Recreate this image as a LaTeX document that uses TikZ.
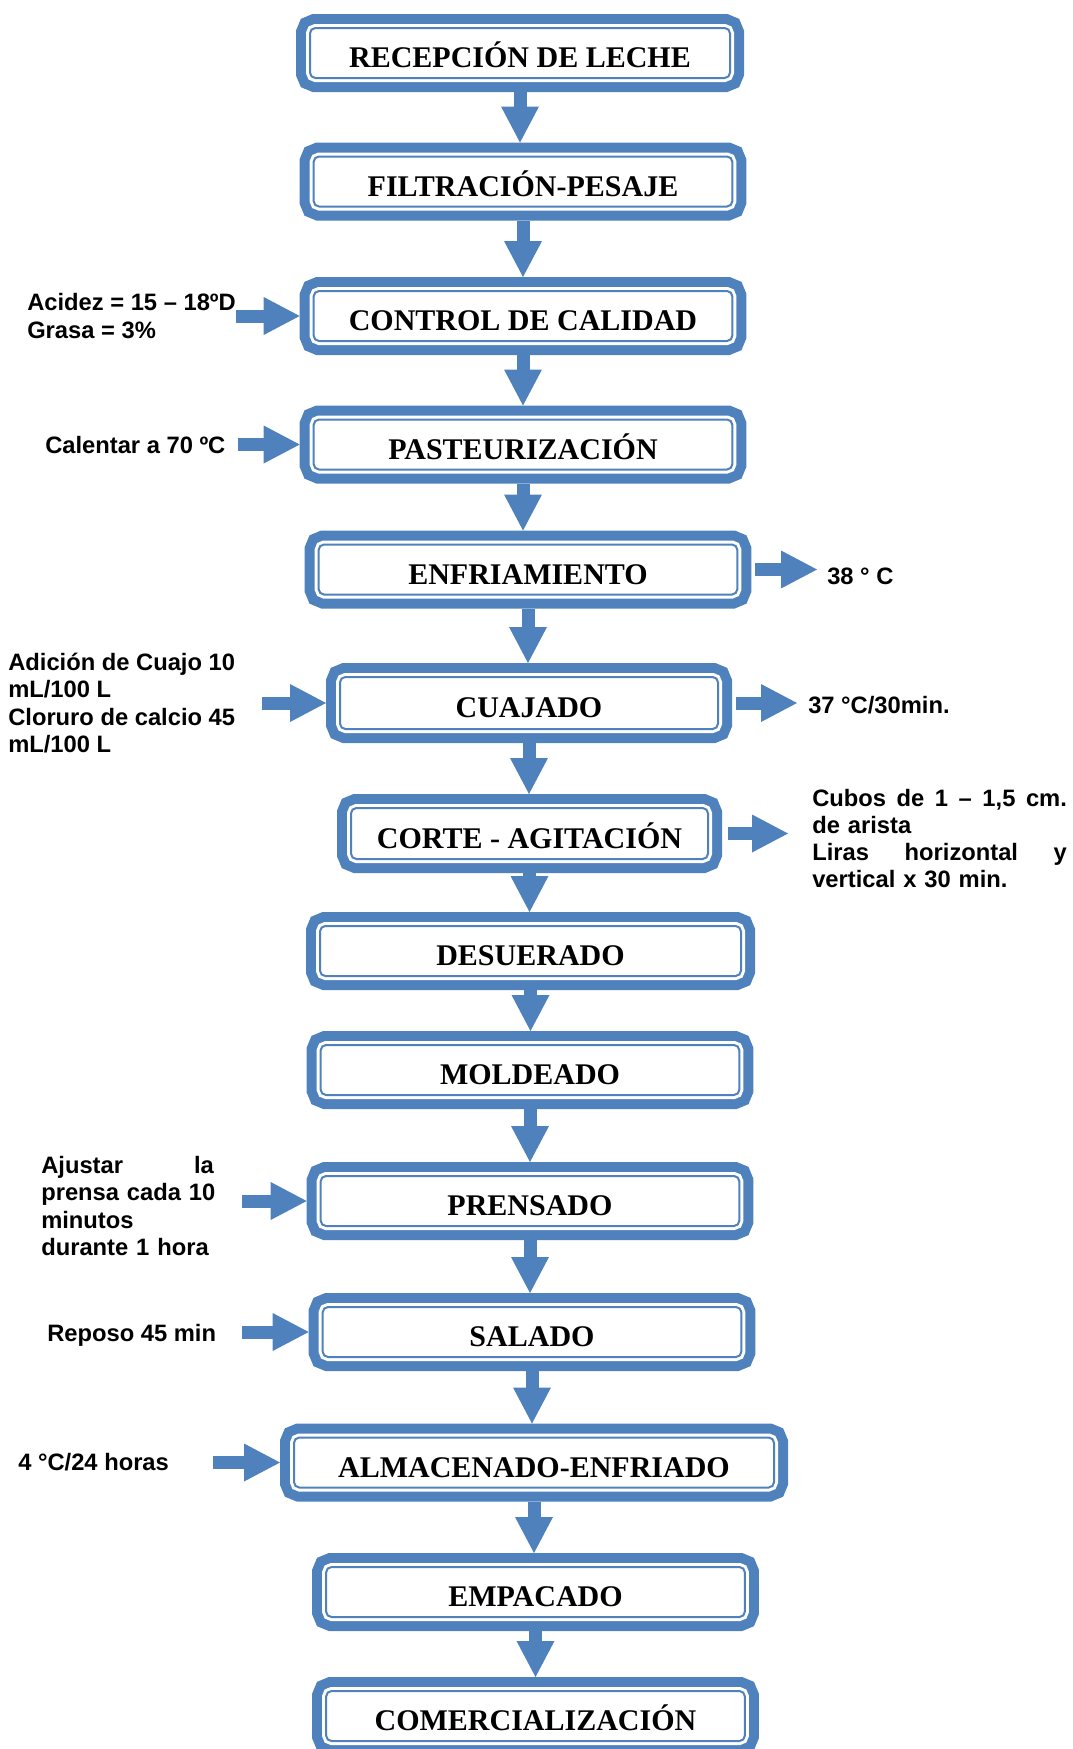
\documentclass[tikz,border=0pt]{standalone}
\usepackage{fontspec}
\setmainfont{Liberation Serif}
\newfontfamily\notefont{Liberation Sans}
\usetikzlibrary{arrows.meta}
\definecolor{boxblue}{RGB}{79,129,189}

\tikzset{
  stepbox/.style={rectangle, rounded corners=4pt, fill=white, draw=boxblue, line width=1.5pt,
    preaction={draw=boxblue, line width=21pt},
    preaction={draw=white, line width=6pt},
    minimum width=314pt, minimum height=37.5pt, inner sep=0pt, outer sep=10.5pt,
    font=\fontsize{22.5}{27}\selectfont\bfseries, text height=22.4pt, text depth=0pt},
  note/.style={anchor=west, inner sep=0pt, align=left,
    font=\notefont\fontsize{17.8}{20.4}\selectfont\bfseries},
  flow/.style={draw=boxblue, line width=9.75pt,
    -{Triangle[width=28.5pt,length=27pt,line width=0pt]}},
}

\begin{document}
\begin{tikzpicture}[x=0.75pt,y=-0.75pt]
\clip (0,0) rectangle (1073,1749);
% process steps
\node[stepbox, minimum width=315pt] (recep) at (520,53) {RECEPCIÓN DE LECHE};
\node[stepbox] (filtr) at (523,181.5) {FILTRACIÓN-PESAJE};
\node[stepbox] (control) at (523,316) {CONTROL DE CALIDAD};
\node[stepbox] (pasteur) at (523,444.5) {PASTEURIZACIÓN};
\node[stepbox] (enfri) at (528,569.5) {ENFRIAMIENTO};
\node[stepbox, minimum width=283.5pt, minimum height=39pt] (cuajado) at (529,703) {CUAJADO};
\node[stepbox, minimum width=267.75pt, minimum height=38.25pt] (corte) at (529.5,833.5) {CORTE - AGITACIÓN};
\node[stepbox, minimum width=315.75pt] (desuer) at (530.5,951) {DESUERADO};
\node[stepbox] (molde) at (530,1070) {MOLDEADO};
\node[stepbox] (prens) at (530,1201) {PRENSADO};
\node[stepbox] (salado) at (532,1332) {SALADO};
\node[stepbox, minimum width=360pt] (almac) at (534,1462.5) {ALMACENADO-ENFRIADO};
\node[stepbox] (empac) at (535.5,1592) {EMPACADO};
\node[stepbox] (comerc) at (535.5,1716) {COMERCIALIZACIÓN};

% flow down
\draw[flow] (recep.south) -- (recep.south |- filtr.north);
\draw[flow] (filtr.south) -- (filtr.south |- control.north);
\draw[flow] (control.south) -- (control.south |- pasteur.north);
\draw[flow] (pasteur.south) -- (pasteur.south |- enfri.north);
\draw[flow] (enfri.south) -- (enfri.south |- cuajado.north);
\draw[flow] (cuajado.south) -- (cuajado.south |- corte.north);
\draw[flow] (corte.south) -- (corte.south |- desuer.north);
\draw[flow] (desuer.south) -- (desuer.south |- molde.north);
\draw[flow] (molde.south) -- (molde.south |- prens.north);
\draw[flow] (prens.south) -- (prens.south |- salado.north);
\draw[flow] (salado.south) -- (salado.south |- almac.north);
\draw[flow] (almac.south) -- (almac.south |- empac.north);
\draw[flow] (empac.south) -- (empac.south |- comerc.north);

% notes on the left
\node[note] (acidez) at (27,316) {Acidez = 15 – 18ºD\\Grasa = 3\%};
\node[note] (calentar) at (45,445) {Calentar a 70 ºC};
\node[note] (cuajo) at (8,703) {Adición de Cuajo 10\\mL/100 L\\Cloruro de calcio 45\\mL/100 L};
\node[note, text width=131pt] (ajustar) at (41,1206) {\makebox[129.5pt][l]{Ajustar\hfill la}\\prensa cada 10\\minutos\\durante 1 hora};
\node[note] (reposo) at (47,1335) {Reposo 45 min};
\node[note] (frio) at (18,1462) {4 °C/24 horas};

\coordinate (acidezarr) at (236,316);
\coordinate (calentararr) at (238,445);
\coordinate (cuajoarr) at (262,703);
\coordinate (ajustararr) at (242,1201);
\coordinate (reposoarr) at (242,1332);
\coordinate (frioarr) at (213,1462);
\draw[flow] (acidezarr |- control.west) -- (control.west);
\draw[flow] (calentararr |- pasteur.west) -- (pasteur.west);
\draw[flow] (cuajoarr |- cuajado.west) -- (cuajado.west);
\draw[flow] (ajustararr |- prens.west) -- (prens.west);
\draw[flow] (reposoarr |- salado.west) -- (salado.west);
\draw[flow] (frioarr |- almac.west) -- (almac.west);

% notes on the right
\node[note] (t38) at (827,576) {38 ° C};
\node[note] (t37) at (808,705) {37 °C/30min.};
\node[note, text width=192pt] (cubos) at (812,838.5) {\makebox[191pt][l]{Cubos\hfill de\hfill 1\hfill –\hfill 1,5\hfill cm.}\\de arista\\\makebox[191pt][l]{Liras\hfill horizontal\hfill y}\\vertical x 30 min.};

\coordinate (t38arr) at (817,572);
\coordinate (t37arr) at (797,703);
\coordinate (cubosarr) at (788,835);
\draw[flow] ([xshift=3pt]enfri.east) -- (t38arr |- enfri.east);
\draw[flow] ([xshift=3pt]cuajado.east) -- (t37arr |- cuajado.east);
\draw[flow] ([xshift=4.5pt]corte.east) -- (cubosarr |- corte.east);
\end{tikzpicture}
\end{document}
